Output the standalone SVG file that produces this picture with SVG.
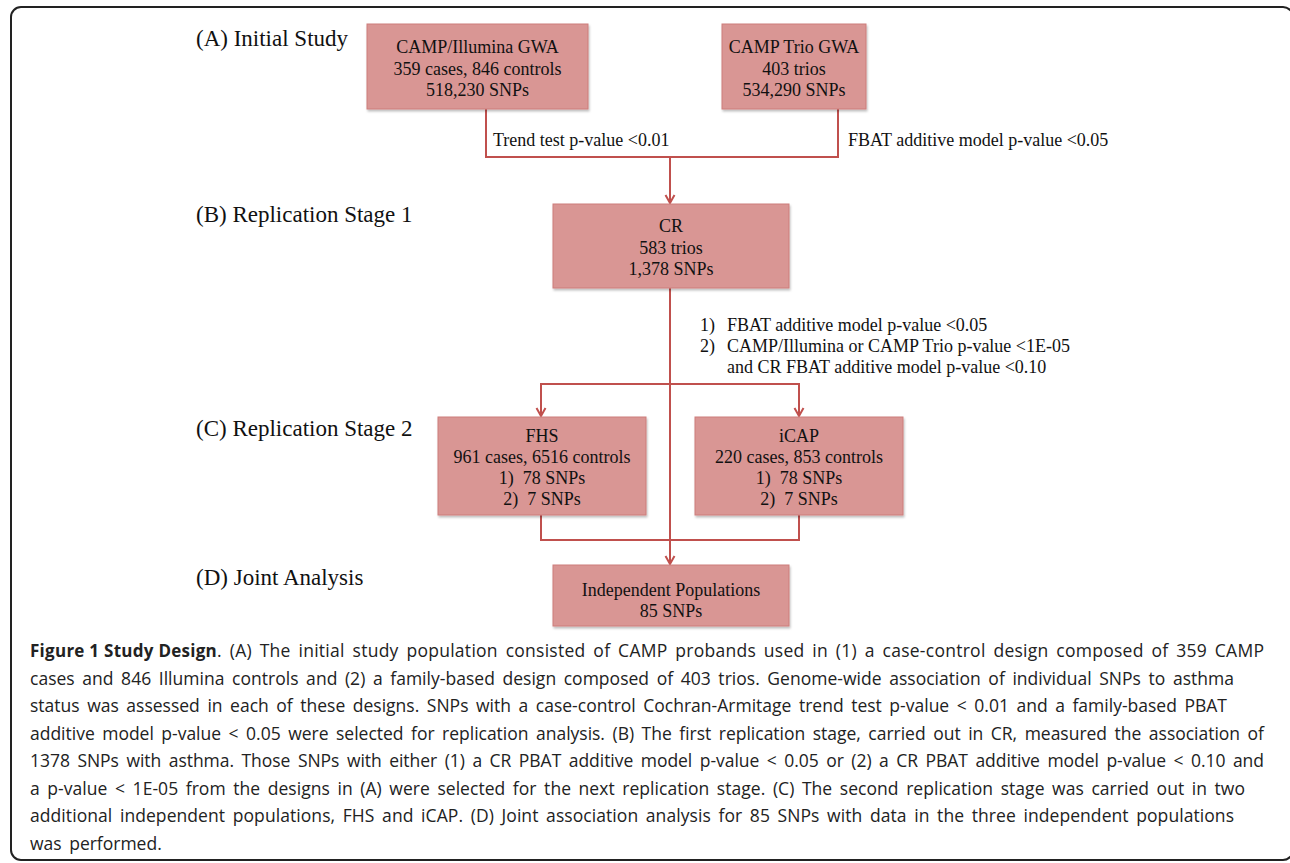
<svg xmlns="http://www.w3.org/2000/svg" width="1290" height="863" viewBox="0 0 1290 863">
<style>
.frame{fill:none;stroke:#222;stroke-width:2}
.box{fill:#D99694;stroke:#CD7D7B;stroke-width:1}
.conn{fill:none;stroke:#C0504D;stroke-width:2}
.t{font-family:"Liberation Serif","Times New Roman",serif;font-size:18px;fill:#111}
.c{text-anchor:middle}
.stage{font-family:"Liberation Serif","Times New Roman",serif;font-size:23px;fill:#111}
.cap{font-family:"Open Sans","Noto Sans",sans-serif;font-size:17.5px;word-spacing:3px;fill:#222}
.b{font-weight:bold;font-size:17px;word-spacing:0}
</style>
<defs>
<marker id="arr" markerWidth="12" markerHeight="12" refX="10" refY="6" orient="auto" markerUnits="userSpaceOnUse" viewBox="0 0 12 12">
<path d="M2,1.5 L10,6 L2,10.5" fill="none" stroke="#C0504D" stroke-width="2"/>
</marker>
<filter id="sh" x="-5%" y="-5%" width="110%" height="115%">
<feDropShadow dx="1" dy="2" stdDeviation="1.2" flood-color="#000" flood-opacity="0.25"/>
</filter>
</defs>
<rect class="frame" x="11" y="7" width="1282" height="853" rx="10"/>
<g id="stage-labels">
<text class="stage" x="196" y="46">(A) Initial Study</text>
<text class="stage" x="196" y="222">(B) Replication Stage 1</text>
<text class="stage" x="196" y="436">(C) Replication Stage 2</text>
<text class="stage" x="196" y="585">(D) Joint Analysis</text>
</g>
<g id="connectors">
<polyline class="conn" points="486,109 486,157 838,157 838,109"/>
<line class="conn" x1="670" y1="157" x2="670" y2="203" marker-end="url(#arr)"/>
<line class="conn" x1="670" y1="288" x2="670" y2="564" marker-end="url(#arr)"/>
<polyline class="conn" points="541,400 541,384 799,384 799,400"/>
<line class="conn" x1="541" y1="384" x2="541" y2="416" marker-end="url(#arr)"/>
<line class="conn" x1="799" y1="384" x2="799" y2="416" marker-end="url(#arr)"/>
<polyline class="conn" points="541,515 541,540 799,540 799,515"/>
<text class="t" x="493" y="146">Trend test p-value &lt;0.01</text>
<text class="t" x="848" y="146">FBAT additive model p-value &lt;0.05</text>
<text class="t" x="700" y="331">1)</text>
<text class="t" x="727" y="331">FBAT additive model p-value &lt;0.05</text>
<text class="t" x="700" y="352">2)</text>
<text class="t" x="727" y="352">CAMP/Illumina or CAMP Trio p-value &lt;1E-05</text>
<text class="t" x="727" y="373">and CR FBAT additive model p-value &lt;0.10</text>
</g>
<g id="camp-illumina">
<rect class="box" filter="url(#sh)" x="367" y="24" width="221" height="85"/>
<text class="t c" x="477.5" y="53">CAMP/Illumina GWA</text>
<text class="t c" x="477.5" y="75">359 cases, 846 controls</text>
<text class="t c" x="477.5" y="96">518,230 SNPs</text>
</g>
<g id="camp-trio">
<rect class="box" filter="url(#sh)" x="722" y="24" width="144" height="85"/>
<text class="t c" x="794" y="53">CAMP Trio GWA</text>
<text class="t c" x="794" y="75">403 trios</text>
<text class="t c" x="794" y="96">534,290 SNPs</text>
</g>
<g id="cr">
<rect class="box" filter="url(#sh)" x="553" y="204" width="236" height="84"/>
<text class="t c" x="671" y="232">CR</text>
<text class="t c" x="671" y="254">583 trios</text>
<text class="t c" x="671" y="275">1,378 SNPs</text>
</g>
<g id="fhs">
<rect class="box" filter="url(#sh)" x="438" y="417" width="208" height="98"/>
<text class="t c" x="542" y="442">FHS</text>
<text class="t c" x="542" y="463">961 cases, 6516 controls</text>
<text class="t c" x="542" y="484">1)&#160; 78 SNPs</text>
<text class="t c" x="542" y="505">2)&#160; 7 SNPs</text>
</g>
<g id="icap">
<rect class="box" filter="url(#sh)" x="695" y="417" width="208" height="98"/>
<text class="t c" x="799" y="442">iCAP</text>
<text class="t c" x="799" y="463">220 cases, 853 controls</text>
<text class="t c" x="799" y="484">1)&#160; 78 SNPs</text>
<text class="t c" x="799" y="505">2)&#160; 7 SNPs</text>
</g>
<g id="independent">
<rect class="box" filter="url(#sh)" x="553" y="565" width="236" height="61"/>
<text class="t c" x="671" y="596">Independent Populations</text>
<text class="t c" x="671" y="617">85 SNPs</text>
</g>
<g id="caption">
<text class="cap" x="30" y="657" textLength="1234" lengthAdjust="spacing"><tspan class="b">Figure 1 Study Design</tspan>. (A) The initial study population consisted of CAMP probands used in (1) a case-control design composed of 359 CAMP</text>
<text class="cap" x="30" y="684.6" textLength="1204" lengthAdjust="spacing">cases and 846 Illumina controls and (2) a family-based design composed of 403 trios. Genome-wide association of individual SNPs to asthma</text>
<text class="cap" x="30" y="712.1" textLength="1197" lengthAdjust="spacing">status was assessed in each of these designs. SNPs with a case-control Cochran-Armitage trend test p-value &lt; 0.01 and a family-based PBAT</text>
<text class="cap" x="30" y="739.7" textLength="1234" lengthAdjust="spacing">additive model p-value &lt; 0.05 were selected for replication analysis. (B) The first replication stage, carried out in CR, measured the association of</text>
<text class="cap" x="30" y="767.3" textLength="1234" lengthAdjust="spacing">1378 SNPs with asthma. Those SNPs with either (1) a CR PBAT additive model p-value &lt; 0.05 or (2) a CR PBAT additive model p-value &lt; 0.10 and</text>
<text class="cap" x="30" y="794.9" textLength="1215" lengthAdjust="spacing">a p-value &lt; 1E-05 from the designs in (A) were selected for the next replication stage. (C) The second replication stage was carried out in two</text>
<text class="cap" x="30" y="822.4" textLength="1204" lengthAdjust="spacing">additional independent populations, FHS and iCAP. (D) Joint association analysis for 85 SNPs with data in the three independent populations</text>
<text class="cap" x="30" y="850">was performed.</text>
</g>
</svg>
